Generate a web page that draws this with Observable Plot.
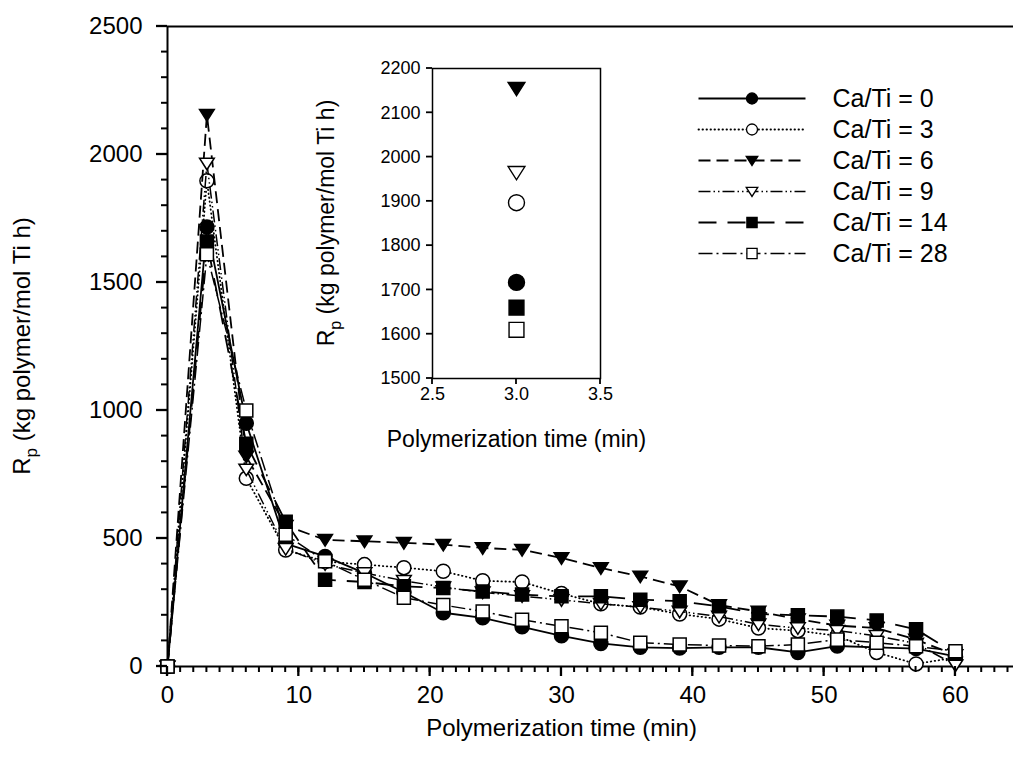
<!DOCTYPE html>
<html><head><meta charset="utf-8">
<script src="https://cdn.jsdelivr.net/npm/d3@7"></script>
<script src="https://cdn.jsdelivr.net/npm/@observablehq/plot@0.6"></script>
<style>
html,body{margin:0;padding:0;background:#fff;}
#wrap{position:relative;width:1013px;height:776px;overflow:hidden;}
#wrap svg{position:absolute;overflow:visible;}
</style></head><body><div id="wrap"></div>
<script>
// ---- data ----
const time = [0,3,6,9,12,15,18,21,24,27,30,33,36,39,42,45,48,51,54,57,60];
const caTi0  = [0,1717,950,480,430,365,290,210,190,155,120,90,75,72,75,75,55,80,75,70,40];
const caTi3  = [0,1897,735,455,410,398,386,372,335,330,285,245,232,205,185,150,140,120,55,10,35];
const caTi6  = [0,2155,820,550,495,489,483,476,463,456,424,385,352,313,240,215,185,160,150,105,45];
const caTi9  = [0,1965,770,460,400,365,335,310,290,275,260,245,232,215,195,165,150,140,120,90,5];
const caTi14 = [0,1660,870,565,339,330,313,307,293,281,274,274,261,255,235,205,200,195,180,145,50];
const caTi28 = [0,1610,1000,515,411,339,269,240,215,183,157,132,93,86,82,79,86,105,93,79,60];
const seriesNames = ["Ca/Ti = 0","Ca/Ti = 3","Ca/Ti = 6","Ca/Ti = 9","Ca/Ti = 14","Ca/Ti = 28"];
const seriesValues = [caTi0, caTi3, caTi6, caTi9, caTi14, caTi28];
const xTicks = [0,10,20,30,40,50,60];
const yTicks = [0,500,1000,1500,2000,2500];
const xMinorTicks = d3.range(0,65,1);
const yMinorTicks = d3.range(0,2501,100);
const insetXTicks = [2.5,3.0,3.5];
const insetYTicks = [1500,1600,1700,1800,1900,2000,2100,2200];
const xTitle = "Polymerization time (min)";
const yTitleMain = "R", yTitleSub = "p", yTitleRest = " (kg polymer/mol Ti h)";

// ---- symbols & styles ----
const triDown = {draw(ctx, size){const k=Math.sqrt(size/Math.PI);ctx.moveTo(-1.05*k,-0.75*k);ctx.lineTo(1.05*k,-0.75*k);ctx.lineTo(0,0.9*k);ctx.closePath();}};
const sq = {draw(ctx, size){const k=Math.sqrt(size/Math.PI);const h=0.93*k;ctx.moveTo(-h,-h);ctx.lineTo(h,-h);ctx.lineTo(h,h);ctx.lineTo(-h,h);ctx.closePath();}};
const styles = [
  {symbol:"circle", fill:"black", dash:null, cap:"butt", sw:1.8},
  {symbol:"circle", fill:"white", dash:"0.5,3.5", cap:"round", sw:1.8},
  {symbol:triDown, fill:"black", dash:"12,6", cap:"butt", sw:1.8},
  {symbol:triDown, fill:"white", dash:"12,3,1.5,3,1.5,3", cap:"butt", sw:1.5},
  {symbol:sq, fill:"black", dash:"18,11", cap:"butt", sw:1.8},
  {symbol:sq, fill:"white", dash:"14,4,2,4", cap:"butt", sw:1.5}
];
const FONT = "'Liberation Sans', Arial, sans-serif";
const rows = seriesNames.map((s,i)=>time.map((t,j)=>({t, v:seriesValues[i][j], s})));
const wrap = document.getElementById("wrap");

// draw axis ticks with the plot's own scales
function addTicks(svg, xs, ys, spec){
  const sx = svg.scale("x"), sy = svg.scale("y");
  const g = d3.select(svg).append("g").attr("stroke","#000").attr("fill","none");
  const X0 = sx.apply(spec.xAt), Y0 = sy.apply(spec.yAt);
  for (const [vals,len,w] of xs) for (const v of vals){
    const px = sx.apply(v);
    g.append("line").attr("x1",px).attr("x2",px).attr("y1",Y0).attr("y2",Y0+len).attr("stroke-width",w);
  }
  for (const [vals,len,w] of ys) for (const v of vals){
    const py = sy.apply(v);
    g.append("line").attr("y1",py).attr("y2",py).attr("x1",X0).attr("x2",X0-len).attr("stroke-width",w);
  }
}

// ---- main chart ----
const main = Plot.plot({
  width:1013, height:776, marginLeft:167, marginRight:0, marginTop:26, marginBottom:110,
  style:{fontFamily:FONT, fontSize:"24px", background:"transparent", color:"black"},
  x:{domain:[0,64.42], axis:null},
  y:{domain:[0,2500], axis:null},
  marks:[
    Plot.text(xTicks, {x:d=>d, y:()=>0, text:d=>String(d), dy:29, fontSize:24, fill:"black"}),
    Plot.text(yTicks, {x:()=>0, y:d=>d, text:d=>String(d), dx:-25, textAnchor:"end", fontSize:24, fill:"black"}),
    Plot.ruleY([2500], {stroke:"black", strokeWidth:1.8}),
    Plot.ruleY([0], {stroke:"black", strokeWidth:2}),
    Plot.ruleX([0], {stroke:"black", strokeWidth:2}),
    ...rows.flatMap((d,i)=>[
      Plot.line(d, {x:"t", y:"v", stroke:"black", strokeWidth:styles[i].sw, strokeDasharray:styles[i].dash, strokeLinecap:styles[i].cap}),
      Plot.dot(d, {x:"t", y:"v", symbol:styles[i].symbol, r:7, fill:styles[i].fill, stroke:"black", strokeWidth:1.5})
    ]),
    Plot.text([xTitle], {frameAnchor:"bottom-left", dx:394, dy:69, textAnchor:"middle", fontSize:24, fill:"black"})
  ]
});
main.style.left="0px"; main.style.top="0px";
wrap.appendChild(main);
addTicks(main, [[xMinorTicks,6,2],[xTicks,10,2.3]], [[yMinorTicks,6,2],[yTicks,11,2.3]], {xAt:0, yAt:0});
{
  const t = d3.select(main).append("text").attr("transform","translate(30,346) rotate(-90)")
    .attr("text-anchor","middle").attr("font-size",24).attr("fill","black");
  t.append("tspan").text(yTitleMain);
  t.append("tspan").attr("font-size",17).attr("dy",7).text(yTitleSub);
  t.append("tspan").attr("dy",-7).text(yTitleRest);
}

// ---- inset ----
const insetRows = rows.map(d=>d.filter(p=>p.t===3));
const inset = Plot.plot({
  width:320, height:430, marginLeft:132, marginRight:20, marginTop:28, marginBottom:92,
  style:{fontFamily:FONT, fontSize:"18px", background:"transparent", color:"black"},
  x:{domain:[2.5,3.5], axis:null},
  y:{domain:[1500,2200], axis:null},
  marks:[
    Plot.frame({stroke:"black", strokeWidth:1.5}),
    Plot.text(insetXTicks, {x:d=>d, y:()=>1500, text:d=>d.toFixed(1), dy:16, fontSize:18, fill:"black"}),
    Plot.text(insetYTicks, {x:()=>2.5, y:d=>d, text:d=>String(d), dx:-12, textAnchor:"end", fontSize:18, fill:"black"}),
    ...insetRows.map((d,i)=>Plot.dot(d, {x:"t", y:"v", symbol:styles[i].symbol, r:8, fill:styles[i].fill, stroke:"black", strokeWidth:1.4})),
    Plot.text([xTitle], {frameAnchor:"bottom", dy:68, fontSize:23, fill:"black"})
  ]
});
inset.style.left="300px"; inset.style.top="40px";
wrap.appendChild(inset);
addTicks(inset, [[insetXTicks,6,1.8]], [[insetYTicks,6,1.8]], {xAt:2.5, yAt:1500});
{
  const t = d3.select(inset).append("text").attr("transform","translate(34,183) rotate(-90)")
    .attr("text-anchor","middle").attr("font-size",23).attr("fill","black");
  t.append("tspan").text(yTitleMain);
  t.append("tspan").attr("font-size",16).attr("dy",7).text(yTitleSub);
  t.append("tspan").attr("dy",-7).text(yTitleRest);
}

// ---- legend ----
const legRows = seriesNames.flatMap(s=>[{x:0,s},{x:1,s}]);
const legend = Plot.plot({
  width:333, height:220, marginLeft:18, marginRight:208, marginTop:27, marginBottom:37,
  style:{fontFamily:FONT, fontSize:"24px", background:"transparent", color:"black"},
  x:{domain:[0,1], axis:null},
  y:{type:"point", domain:seriesNames, padding:0, axis:null},
  marks:[
    ...seriesNames.flatMap((s,i)=>[
      Plot.line(legRows.filter(d=>d.s===s), {x:"x", y:"s", stroke:"black", strokeWidth:styles[i].sw, strokeDasharray:styles[i].dash, strokeLinecap:styles[i].cap}),
      Plot.dot([{x:0.5,s}], {x:"x", y:"s", symbol:styles[i].symbol, r:5.5, fill:styles[i].fill, stroke:"black", strokeWidth:1.3})
    ]),
    Plot.text(seriesNames, {x:()=>1, y:d=>d, text:d=>d, dx:27, textAnchor:"start", fontSize:25, fill:"black"})
  ]
});
legend.style.left="680px"; legend.style.top="70px";
wrap.appendChild(legend);
</script></body></html>
